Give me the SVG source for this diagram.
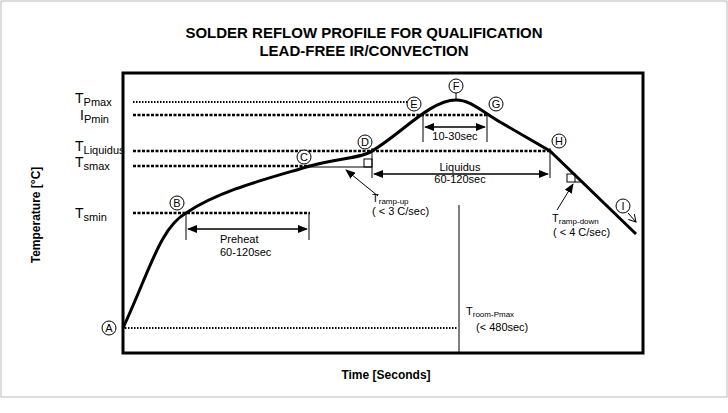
<svg xmlns="http://www.w3.org/2000/svg" width="728" height="413" viewBox="0 0 728 413">
<defs>
<marker id="ah" markerWidth="10" markerHeight="8" refX="9" refY="4" orient="auto" markerUnits="userSpaceOnUse"><path d="M0,0 L10,4 L0,8 z" fill="#000"/></marker>
<marker id="oa" markerWidth="8" markerHeight="8" refX="7" refY="4" orient="auto" markerUnits="userSpaceOnUse"><path d="M0,0 L7,4 L0,8" fill="none" stroke="#000"/></marker>
</defs>
<style>
text{font-family:"Liberation Sans",Arial,sans-serif;fill:#000}
.t{font-size:15px;font-weight:bold}
.s{font-size:11px}
.xs{font-size:8px}
.big{font-size:14px}
.c{fill:#fff;stroke:#000;stroke-width:1}
.dot{stroke:#000;stroke-width:2.6;stroke-dasharray:3,1.5}
.dot1{stroke:#000;stroke-width:1.8;stroke-dasharray:1.5,1.5}
.thin{stroke:#000;stroke-width:1;fill:none}
</style>
<rect width="728" height="413" fill="#fff"/>
<rect x="1" y="1" width="726" height="396" fill="none" stroke="#bbb" stroke-width="1"/>
<text class="t" x="364" y="38" text-anchor="middle">SOLDER REFLOW PROFILE FOR QUALIFICATION</text>
<text class="t" x="364" y="56" text-anchor="middle">LEAD-FREE IR/CONVECTION</text>
<rect x="123" y="73" width="520" height="280" fill="none" stroke="#000" stroke-width="3"/>
<text transform="translate(40,215) rotate(-90)" text-anchor="middle" style="font-size:12px;font-weight:bold">Temperature [°C]</text>
<text x="386" y="379" text-anchor="middle" style="font-size:12px;font-weight:bold">Time [Seconds]</text>
<g id="levels">
<line class="dot1" x1="133" y1="102" x2="410" y2="102"/>
<line class="dot" x1="133" y1="115" x2="487" y2="115"/>
<line class="dot" x1="133" y1="151" x2="550" y2="151"/>
<line class="dot" x1="133" y1="166" x2="310" y2="166"/>
<line class="dot" x1="133" y1="213" x2="310" y2="213"/>
<line class="dot1" x1="122" y1="328" x2="458" y2="328"/>
<text x="75" y="103" class="big">T<tspan class="s" dy="3">Pmax</tspan></text>
<text x="80" y="120" class="big">I<tspan class="s" dy="3">Pmin</tspan></text>
<text x="75" y="151" class="big">T<tspan class="s" dy="3">Liquidus</tspan></text>
<text x="75" y="167" class="big">T<tspan class="s" dy="3">smax</tspan></text>
<text x="75" y="218" class="big">T<tspan class="s" dy="3">smin</tspan></text>
</g>
<g id="curve"><path d="M123,328 C150,270 160,228 186,213 C220,190 270,178 310,166 C340,158 362,158 372,151 C400,135 430,100 456,100 C470,100 480,110 500,122 L550,151 L636,234" fill="none" stroke="#000" stroke-width="3"/></g>
<g id="connectors">
<line class="thin" x1="186" y1="213" x2="186" y2="240"/><line class="thin" x1="309" y1="213" x2="309" y2="240"/>
<line class="thin" x1="196" y1="229" x2="307" y2="229" marker-end="url(#ah)"/><line class="thin" x1="300" y1="229" x2="188" y2="229" marker-end="url(#ah)"/>
<line class="thin" x1="310" y1="167" x2="372" y2="167"/><line class="thin" x1="372" y1="148" x2="372" y2="178"/>
<rect class="thin" x="364" y="159" width="8" height="8"/>
<line class="thin" x1="378" y1="196" x2="346" y2="170" marker-end="url(#ah)"/>
<line class="thin" x1="550" y1="148" x2="550" y2="178"/>
<line class="thin" x1="380" y1="174" x2="548" y2="174" marker-end="url(#ah)"/><line class="thin" x1="540" y1="174" x2="374" y2="174" marker-end="url(#ah)"/>
<line class="thin" x1="423" y1="115" x2="423" y2="142"/><line class="thin" x1="487" y1="115" x2="487" y2="142"/>
<line class="thin" x1="430" y1="127" x2="485" y2="127" marker-end="url(#ah)"/><line class="thin" x1="480" y1="127" x2="425" y2="127" marker-end="url(#ah)"/>
<rect class="thin" x="567" y="174" width="8" height="8"/><line class="thin" x1="575" y1="182" x2="583" y2="182"/>
<line class="thin" x1="557" y1="210" x2="573" y2="184" marker-end="url(#ah)"/>
<line class="thin" x1="628" y1="213" x2="636" y2="222" marker-end="url(#oa)"/>
<line class="thin" x1="459" y1="205" x2="459" y2="353"/>
</g>
<g id="labels">
<text class="s" x="220" y="243">Preheat</text><text class="s" x="220" y="256">60-120sec</text>
<text class="s" x="455" y="140" text-anchor="middle">10-30sec</text>
<text class="s" x="460" y="171" text-anchor="middle">Liquidus</text><text class="s" x="460" y="183" text-anchor="middle">60-120sec</text>
<text class="s" x="372" y="202">T<tspan class="xs" dy="2">ramp-up</tspan></text><text class="s" x="372" y="215">( &lt; 3 C/sec)</text>
<text class="s" x="552" y="222">T<tspan class="xs" dy="2">ramp-down</tspan></text><text class="s" x="553" y="236">( &lt; 4 C/sec)</text>
<text class="s" x="466" y="315">T<tspan class="xs" dy="2">room-Pmax</tspan></text><text class="s" x="476" y="331">(&lt;  480sec)</text>
</g>
<g id="A"><circle class="c" cx="109" cy="328" r="7"/><text class="s" x="109" y="332" text-anchor="middle">A</text></g>
<g id="B"><circle class="c" cx="177" cy="203" r="7"/><text class="s" x="177" y="207" text-anchor="middle">B</text></g>
<g id="C"><circle class="c" cx="304" cy="157" r="7"/><text class="s" x="304" y="161" text-anchor="middle">C</text></g>
<g id="D"><circle class="c" cx="365" cy="142" r="7"/><text class="s" x="365" y="146" text-anchor="middle">D</text></g>
<g id="E"><circle class="c" cx="414" cy="104" r="7"/><text class="s" x="414" y="108" text-anchor="middle">E</text></g>
<g id="F"><circle class="c" cx="456" cy="86" r="7"/><text class="s" x="456" y="90" text-anchor="middle">F</text><line class="thin" x1="456" y1="93" x2="456" y2="100"/></g>
<g id="G"><circle class="c" cx="496" cy="104" r="7"/><text class="s" x="496" y="108" text-anchor="middle">G</text></g>
<g id="H"><circle class="c" cx="559" cy="141" r="7"/><text class="s" x="559" y="145" text-anchor="middle">H</text></g>
<g id="I"><circle class="c" cx="623" cy="206" r="7"/><text class="s" x="623" y="210" text-anchor="middle">I</text></g>
</svg>
